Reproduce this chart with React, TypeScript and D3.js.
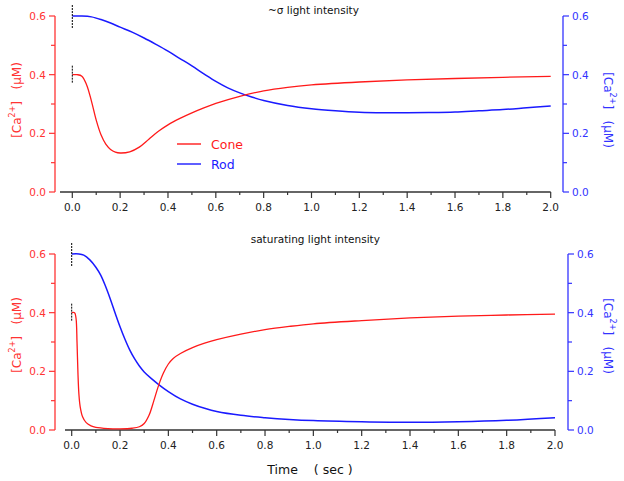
import React from "react";
import * as d3 from "d3";

// ---- data ----
const topConeT = [0, 0.02, 0.04, 0.06, 0.08, 0.1, 0.12, 0.14, 0.16, 0.18, 0.2, 0.24, 0.28, 0.32, 0.36, 0.4, 0.45, 0.5, 0.55, 0.6, 0.7, 0.8, 0.9, 1.0, 1.2, 1.4, 1.6, 1.8, 2.0];
const topConeV = [0.4, 0.4, 0.395, 0.365, 0.31, 0.245, 0.195, 0.163, 0.145, 0.136, 0.133, 0.137, 0.153, 0.18, 0.207, 0.229, 0.251, 0.27, 0.287, 0.302, 0.326, 0.345, 0.357, 0.365, 0.375, 0.382, 0.387, 0.391, 0.394];
const topRodT = [0, 0.04, 0.08, 0.12, 0.16, 0.2, 0.25, 0.3, 0.35, 0.4, 0.45, 0.5, 0.55, 0.6, 0.65, 0.7, 0.75, 0.8, 0.9, 1.0, 1.1, 1.2, 1.3, 1.4, 1.5, 1.6, 1.7, 1.8, 1.9, 2.0];
const topRodV = [0.6, 0.6, 0.597, 0.588, 0.576, 0.562, 0.545, 0.525, 0.503, 0.48, 0.455, 0.43, 0.403, 0.377, 0.355, 0.338, 0.324, 0.312, 0.295, 0.284, 0.277, 0.272, 0.27, 0.27, 0.271, 0.273, 0.277, 0.281, 0.287, 0.293];

const botConeT = [0, 0.012, 0.018, 0.022, 0.026, 0.03, 0.035, 0.045, 0.06, 0.08, 0.1, 0.15, 0.2, 0.25, 0.28, 0.3, 0.32, 0.34, 0.36, 0.38, 0.4, 0.42, 0.45, 0.5, 0.55, 0.6, 0.7, 0.8, 0.9, 1.0, 1.2, 1.4, 1.6, 1.8, 2.0];
const botConeV = [0.4, 0.4, 0.38, 0.3, 0.19, 0.12, 0.08, 0.045, 0.025, 0.014, 0.009, 0.005, 0.004, 0.006, 0.011, 0.022, 0.05, 0.1, 0.153, 0.195, 0.225, 0.244, 0.261, 0.281, 0.296, 0.308, 0.327, 0.342, 0.353, 0.362, 0.373, 0.382, 0.388, 0.392, 0.395];
const botRodT = [0, 0.03, 0.05, 0.075, 0.1, 0.12, 0.14, 0.16, 0.18, 0.2, 0.22, 0.24, 0.26, 0.28, 0.3, 0.33, 0.36, 0.4, 0.45, 0.5, 0.55, 0.6, 0.7, 0.8, 0.9, 1.0, 1.2, 1.4, 1.6, 1.8, 2.0];
const botRodV = [0.6, 0.6, 0.596, 0.58, 0.555, 0.528, 0.49, 0.446, 0.398, 0.352, 0.31, 0.273, 0.243, 0.218, 0.198, 0.175, 0.155, 0.131, 0.106, 0.088, 0.074, 0.063, 0.05, 0.042, 0.036, 0.032, 0.028, 0.026, 0.028, 0.033, 0.042];

const xTicks = [0, 0.2, 0.4, 0.6, 0.8, 1.0, 1.2, 1.4, 1.6, 1.8, 2.0];
const xMinor = [0.1, 0.3, 0.5, 0.7, 0.9, 1.1, 1.3, 1.5, 1.7, 1.9];
const yTicks = [0, 0.2, 0.4, 0.6];
const yMinor = [0.1, 0.3, 0.5];

const titles = ["~σ light intensity", "saturating light intensity"];
const legendNames = ["Cone", "Rod"];

const RED = "#ff1a1a";
const BLUE = "#1a1aff";
const RED_AX = "#ff3333";
const BLUE_AX = "#3333ff";
const FONT = "DejaVu Sans, Verdana, sans-serif";

type PanelProps = {
  x0: number; x2: number; yBot: number; yTop: number;
  axStart: number; rightX: number; title: string; titleY: number;
  cone: [number[], number[]]; rod: [number[], number[]];
  leftLabelY: number; rightLabelY: number; legend?: boolean;
};

function CaLabel({ x, y, rot, color }: { x: number; y: number; rot: number; color: string }) {
  return (
    <text transform={`translate(${x},${y}) rotate(${rot})`} textAnchor="middle" fill={color}
      fontFamily={FONT} fontSize={12} dominantBaseline="central">
      [Ca<tspan fontSize={8} dy={-5}>2+</tspan><tspan dy={5}>]</tspan>
      <tspan xmlSpace="preserve">{"   (μM)"}</tspan>
    </text>
  );
}

function Panel(p: PanelProps) {
  const x = d3.scaleLinear().domain([0, 2]).range([p.x0, p.x2]);
  const y = d3.scaleLinear().domain([0, 0.6]).range([p.yBot, p.yTop]);
  const line = d3.line<[number, number]>().x(d => x(d[0])).y(d => y(d[1])).curve(d3.curveCatmullRom.alpha(0.5));
  const coneD = line(p.cone[0].map((t, i) => [t, p.cone[1][i]]))!;
  const rodD = line(p.rod[0].map((t, i) => [t, p.rod[1][i]]))!;
  const lx = 55;
  return (
    <g>
      <text x={(p.x0 + p.x2) / 2 + 2} y={p.titleY} textAnchor="middle" fontFamily={FONT} fontSize={10.5} fill="#111">{p.title}</text>
      {/* left axis */}
      <line x1={lx} x2={lx} y1={y(0.6)} y2={y(0)} stroke={RED_AX} strokeWidth={1.3} />
      {yTicks.map(v => (
        <g key={"l" + v}>
          <line x1={lx - 6} x2={lx} y1={y(v)} y2={y(v)} stroke={RED_AX} strokeWidth={1.2} />
          <text x={lx - 9} y={y(v)} textAnchor="end" dominantBaseline="central" fontFamily={FONT} fontSize={10.5} fill={RED_AX}>{v.toFixed(1)}</text>
        </g>
      ))}
      {yMinor.map(v => <line key={"lm" + v} x1={lx - 4} x2={lx} y1={y(v)} y2={y(v)} stroke={RED_AX} strokeWidth={1.2} />)}
      {/* right axis */}
      <line x1={p.rightX} x2={p.rightX} y1={y(0.6)} y2={y(0)} stroke={BLUE_AX} strokeWidth={1.3} />
      {yTicks.map(v => (
        <g key={"r" + v}>
          <line x1={p.rightX} x2={p.rightX + 6} y1={y(v)} y2={y(v)} stroke={BLUE_AX} strokeWidth={1.2} />
          <text x={p.rightX + 9} y={y(v)} textAnchor="start" dominantBaseline="central" fontFamily={FONT} fontSize={10.5} fill={BLUE_AX}>{v.toFixed(1)}</text>
        </g>
      ))}
      {yMinor.map(v => <line key={"rm" + v} x1={p.rightX} x2={p.rightX + 4} y1={y(v)} y2={y(v)} stroke={BLUE_AX} strokeWidth={1.2} />)}
      {/* x axis */}
      <line x1={p.axStart} x2={p.x2} y1={p.yBot} y2={p.yBot} stroke="#333" strokeWidth={1.3} />
      {xTicks.map(v => (
        <g key={"x" + v}>
          <line x1={x(v)} x2={x(v)} y1={p.yBot} y2={p.yBot + 6} stroke="#333" strokeWidth={1.2} />
          <text x={x(v)} y={p.yBot + 19} textAnchor="middle" fontFamily={FONT} fontSize={10.5} fill="#222">{v.toFixed(1)}</text>
        </g>
      ))}
      {xMinor.map(v => <line key={"xm" + v} x1={x(v)} x2={x(v)} y1={p.yBot} y2={p.yBot + 3} stroke="#333" strokeWidth={1.2} />)}
      {/* curves */}
      <path d={rodD} fill="none" stroke={BLUE} strokeWidth={1.5} />
      <path d={coneD} fill="none" stroke={RED} strokeWidth={1.3} />
      {/* start markers */}
      <line x1={x(0)} x2={x(0)} y1={y(0.6) - 11} y2={y(0.6) + 12} stroke="#000" strokeWidth={1} strokeDasharray="2,1" />
      <line x1={x(0)} x2={x(0)} y1={y(0.4) - 9} y2={y(0.4) + 8} stroke="#000" strokeWidth={1} strokeDasharray="2,1" />
      <CaLabel x={17} y={p.leftLabelY} rot={-90} color={RED_AX} />
      <CaLabel x={608} y={p.rightLabelY} rot={90} color={BLUE_AX} />
      {p.legend && (
        <g fontFamily={FONT} fontSize={12.5}>
          <line x1={177} x2={201} y1={144} y2={144} stroke={RED} strokeWidth={1.4} />
          <text x={211} y={144} dominantBaseline="central" fill={RED}>{legendNames[0]}</text>
          <line x1={177} x2={201} y1={164} y2={164} stroke={BLUE} strokeWidth={1.4} />
          <text x={211} y={164} dominantBaseline="central" fill={BLUE}>{legendNames[1]}</text>
        </g>
      )}
    </g>
  );
}

export default function App() {
  return (
    <svg width={624} height={481} style={{ position: "absolute", left: 0, top: 0, background: "#fff" }}>
      <rect width={624} height={481} fill="#fff" />
      <Panel x0={72.3} x2={550.7} yBot={192} yTop={16} axStart={60} rightX={563}
        title={titles[0]} titleY={14} cone={[topConeT, topConeV]} rod={[topRodT, topRodV]}
        leftLabelY={100} rightLabelY={110} legend />
      <Panel x0={71.7} x2={555} yBot={430} yTop={254} axStart={65} rightX={568}
        title={titles[1]} titleY={243} cone={[botConeT, botConeV]} rod={[botRodT, botRodV]}
        leftLabelY={335} rightLabelY={336} />
      <text x={310} y={474} textAnchor="middle" fontFamily={FONT} fontSize={12.5} fill="#111" xmlSpace="preserve">{"Time    ( sec )"}</text>
    </svg>
  );
}
